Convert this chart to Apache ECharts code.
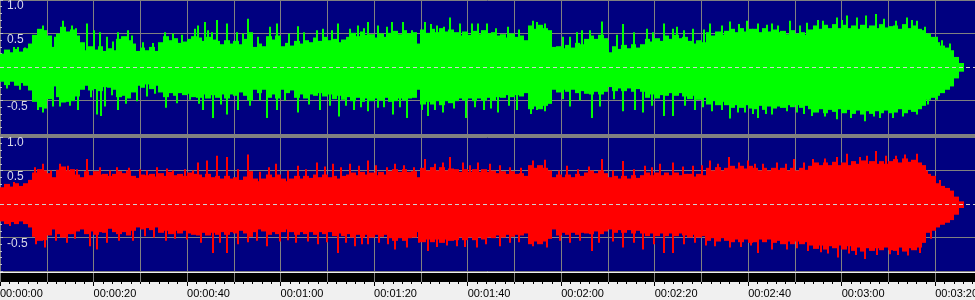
<!DOCTYPE html>
<html><head><meta charset="utf-8">
<script src="https://cdn.jsdelivr.net/npm/echarts@6/dist/echarts.min.js"></script>
<style>html,body{margin:0;padding:0;background:#f0f0f0;overflow:hidden}#c{width:975px;height:300px}</style>
</head><body><div id="c"></div>
<script>
// ---- time ruler labels (every 20 s) ----
const timeLabels = ['00:00:00','00:00:20','00:00:40','00:01:00','00:01:20','00:01:40','00:02:00','00:02:20','00:02:40','00:03:00','00:03:20'];
const ampLabels = ['-1.0','-0.5','0.0','0.5','1.0'];

// ---- envelope per 1-second bin (index = second) ----
const leftUpper = [
0.20,0.26,0.22,0.27,0.23,0.28,0.35,
0.48,0.57,0.55,0.47,0.30,0.50,0.60,0.53,0.56,0.47,0.37,
0.25,0.31,0.26,0.31,0.24,0.28,0.25,
0.42,0.46,0.40,0.35,
0.24,0.29,0.25,0.30,0.24,
0.37,0.46,0.40,0.43,0.36,0.38,0.42,0.46,
0.44,0.39,0.45,0.41,
0.39,0.34,0.40,0.35,
0.39,0.34,0.42,
0.52,
0.30,0.35,0.31,
0.46,0.41,0.47,
0.31,0.36,0.32,
0.39,0.35,0.40,0.37,
0.44,0.39,0.45,0.40,
0.42,0.37,0.41,0.45,
0.51,0.46,0.53,0.48,
0.49,0.44,0.50,0.45,0.51,
0.54,0.49,0.55,0.50,0.52,
0.35,
0.56,0.51,0.57,0.52,0.58,0.53,0.56,
0.52,0.47,0.53,0.48,
0.54,0.49,0.55,0.50,0.52,0.47,
0.49,0.44,0.50,0.45,0.47,0.40,
0.62,0.57,0.63,0.58,0.55,
0.30,
0.31,0.28,0.33,0.29,0.36,0.34,0.42,
0.47,0.42,0.48,0.43,
0.22,
0.31,0.27,0.33,0.28,0.34,0.29,0.34,
0.42,0.38,0.43,0.39,
0.47,0.42,0.48,0.43,0.45,
0.39,0.35,0.40,0.37,
0.52,0.47,0.53,0.48,0.54,
0.57,0.52,0.58,0.53,0.57,
0.57,0.52,0.58,0.53,0.56,0.52,
0.54,0.49,0.55,0.50,
0.52,0.48,0.56,
0.62,0.57,0.63,0.58,0.64,0.58,0.63,0.58,
0.62,0.57,0.63,0.58,
0.62,0.58,0.64,0.59,0.61,
0.62,0.57,0.64,0.58,0.62,0.57,0.55,
0.50,0.45,
0.37,0.32,
0.29,0.25,
0.15,
0.06];
const leftLower = [
-0.22,-0.27,-0.22,-0.28,-0.24,-0.28,-0.35,
-0.52,-0.60,-0.62,-0.48,-0.29,-0.45,-0.53,-0.52,-0.51,-0.44,-0.34,
-0.28,-0.35,-0.33,-0.36,-0.30,-0.31,-0.34,
-0.45,-0.43,-0.47,-0.38,
-0.28,-0.31,-0.26,-0.33,-0.28,
-0.38,-0.45,-0.39,-0.43,-0.39,-0.42,-0.40,-0.45,
-0.46,-0.41,-0.47,-0.42,
-0.46,-0.41,-0.47,-0.41,
-0.43,-0.38,-0.43,
-0.50,
-0.34,-0.39,-0.34,
-0.46,-0.41,-0.47,
-0.34,-0.39,-0.35,
-0.46,-0.41,-0.47,-0.41,
-0.43,-0.39,-0.44,-0.41,
-0.48,-0.43,-0.49,-0.45,
-0.51,-0.46,-0.52,-0.47,
-0.51,-0.47,-0.50,-0.46,-0.52,
-0.51,-0.47,-0.50,-0.47,-0.46,
-0.34,
-0.56,-0.52,-0.56,-0.51,-0.57,-0.51,-0.54,
-0.51,-0.47,-0.50,-0.47,
-0.51,-0.47,-0.50,-0.46,-0.50,-0.45,
-0.46,-0.42,-0.45,-0.42,-0.44,-0.39,
-0.63,-0.59,-0.63,-0.58,-0.55,
-0.34,
-0.38,-0.34,-0.37,-0.34,-0.39,-0.36,-0.40,
-0.41,-0.37,-0.41,-0.37,
-0.30,
-0.36,-0.32,-0.36,-0.32,-0.37,-0.33,-0.37,
-0.46,-0.41,-0.47,-0.42,
-0.43,-0.39,-0.43,-0.39,-0.44,
-0.48,-0.43,-0.49,-0.46,
-0.56,-0.51,-0.57,-0.52,-0.57,
-0.61,-0.57,-0.61,-0.57,-0.62,
-0.63,-0.58,-0.64,-0.59,-0.62,-0.59,
-0.61,-0.57,-0.60,-0.57,
-0.61,-0.58,-0.63,
-0.68,-0.63,-0.69,-0.64,-0.67,-0.63,-0.69,-0.64,
-0.70,-0.65,-0.71,-0.66,
-0.70,-0.66,-0.69,-0.65,-0.69,
-0.68,-0.63,-0.69,-0.64,-0.67,-0.63,-0.58,
-0.49,-0.46,
-0.43,-0.39,
-0.34,-0.29,
-0.17,
-0.07];
const rightUpper = [
0.25,0.30,0.26,0.31,0.27,0.31,0.36,
0.47,0.52,0.50,0.46,0.40,0.51,0.56,0.50,0.52,0.44,0.40,
0.49,0.43,0.49,0.44,0.45,0.42,0.45,
0.49,0.46,0.50,0.42,
0.39,0.44,0.43,0.45,0.41,
0.46,0.42,0.48,0.43,0.45,0.42,0.47,0.45,
0.44,0.40,0.45,0.40,
0.42,0.38,0.42,0.38,
0.40,0.36,0.41,
0.49,
0.38,0.34,0.38,
0.44,0.40,0.44,
0.38,0.34,0.38,
0.42,0.38,0.42,0.39,
0.44,0.40,0.44,0.40,
0.42,0.38,0.42,0.44,
0.47,0.43,0.48,0.44,
0.47,0.43,0.48,0.44,0.49,
0.52,0.48,0.52,0.48,0.49,
0.40,
0.54,0.50,0.55,0.50,0.55,0.50,0.53,
0.52,0.48,0.52,0.48,
0.52,0.48,0.52,0.48,0.50,0.46,
0.49,0.45,0.49,0.45,0.46,0.42,
0.58,0.54,0.58,0.54,0.50,
0.40,
0.44,0.40,0.44,0.40,0.45,0.42,0.47,
0.50,0.46,0.50,0.46,
0.40,
0.42,0.38,0.42,0.38,0.43,0.39,0.43,
0.47,0.43,0.47,0.43,
0.47,0.43,0.47,0.43,0.45,
0.45,0.41,0.45,0.43,
0.54,0.50,0.55,0.50,0.54,
0.57,0.53,0.57,0.53,0.57,
0.54,0.50,0.54,0.50,0.54,0.51,
0.54,0.50,0.54,0.50,
0.54,0.51,0.57,
0.62,0.58,0.62,0.58,0.63,0.58,0.62,0.58,
0.64,0.60,0.65,0.60,
0.64,0.60,0.64,0.60,0.64,
0.67,0.62,0.68,0.63,0.66,0.62,0.58,
0.45,0.42,
0.31,0.27,
0.24,0.20,
0.11,
0.04];
const rightLower = [
-0.26,-0.30,-0.27,-0.30,-0.26,-0.30,-0.35,
-0.49,-0.55,-0.54,-0.47,-0.38,-0.45,-0.50,-0.45,-0.45,-0.41,-0.38,
-0.45,-0.41,-0.46,-0.42,-0.43,-0.37,-0.42,
-0.45,-0.42,-0.47,-0.40,
-0.35,-0.38,-0.36,-0.39,-0.35,
-0.43,-0.40,-0.45,-0.40,-0.44,-0.40,-0.44,-0.46,
-0.47,-0.43,-0.47,-0.43,
-0.46,-0.42,-0.46,-0.42,
-0.44,-0.40,-0.44,
-0.49,
-0.42,-0.38,-0.41,
-0.46,-0.42,-0.45,
-0.42,-0.38,-0.42,
-0.46,-0.42,-0.45,-0.42,
-0.46,-0.42,-0.45,-0.42,
-0.48,-0.44,-0.48,-0.45,
-0.50,-0.46,-0.50,-0.46,
-0.50,-0.46,-0.49,-0.46,-0.51,
-0.55,-0.51,-0.55,-0.51,-0.50,
-0.42,
-0.57,-0.53,-0.57,-0.53,-0.58,-0.53,-0.55,
-0.54,-0.50,-0.54,-0.50,
-0.54,-0.50,-0.53,-0.50,-0.51,-0.47,
-0.50,-0.46,-0.49,-0.46,-0.47,-0.44,
-0.60,-0.56,-0.60,-0.56,-0.52,
-0.38,
-0.47,-0.43,-0.46,-0.43,-0.46,-0.43,-0.44,
-0.45,-0.41,-0.45,-0.41,
-0.38,
-0.43,-0.39,-0.43,-0.39,-0.44,-0.40,-0.44,
-0.48,-0.44,-0.48,-0.44,
-0.48,-0.44,-0.48,-0.44,-0.47,
-0.50,-0.46,-0.50,-0.48,
-0.55,-0.51,-0.56,-0.51,-0.55,
-0.57,-0.53,-0.57,-0.53,-0.58,
-0.57,-0.53,-0.57,-0.53,-0.58,-0.55,
-0.60,-0.56,-0.60,-0.56,
-0.60,-0.57,-0.62,
-0.67,-0.62,-0.68,-0.63,-0.66,-0.62,-0.68,-0.63,
-0.70,-0.65,-0.71,-0.66,
-0.70,-0.66,-0.69,-0.65,-0.69,
-0.70,-0.65,-0.71,-0.66,-0.69,-0.65,-0.58,
-0.43,-0.40,
-0.35,-0.31,
-0.28,-0.24,
-0.16,
-0.06];

// ---- individual peaks [second, amplitude] ----
const leftUpperPeaks = [[2.9,0.30],[3.8,0.30],[5.3,0.29],[9.3,0.62],[11.8,0.45],[13.5,0.69],[15.3,0.62],[16.2,0.58],[18.7,0.65],[20.0,0.55],[21.4,0.52],[22.8,0.45],[24.1,0.38],[25.3,0.52],[27.4,0.55],[28.3,0.47],[30.6,0.37],[32.8,0.36],[35.3,0.52],[37.1,0.50],[39.0,0.48],[41.7,0.57],
[42.4,0.62],[43.8,0.67],[44.5,0.55],[45.3,0.52],[46.5,0.70],[48.6,0.65],[50.6,0.52],[51.9,0.50],[53.1,0.72],[55.2,0.45],[57.7,0.60],[59.2,0.65],[61.7,0.50],[63.8,0.61],[65.0,0.52],[67.7,0.55],[69.1,0.57],[71.0,0.55],[72.3,0.65],[74.8,0.57],[76.6,0.62],[77.9,0.58],[78.8,0.67],[80.9,0.62],[82.7,0.60],
[83.8,0.67],[86.1,0.67],[88.0,0.55],[90.9,0.67],[92.1,0.64],[93.4,0.62],[95.0,0.60],[96.2,0.74],[98.4,0.65],[100.9,0.65],[102.3,0.65],[104.2,0.65],[106.1,0.58],[108.7,0.60],[111.0,0.56],[114.0,0.69],[114.8,0.67],[116.5,0.65],[117.8,0.50],[120.5,0.45],[121.9,0.45],[123.3,0.52],[124.4,0.55],
[126.2,0.55],[128.8,0.68],[130.0,0.40],[131.9,0.48],[133.3,0.64],[135.6,0.52],[138.3,0.57],[139.7,0.52],[142.1,0.65],[144.0,0.57],[144.7,0.60],[146.2,0.55],[148.3,0.57],[150.6,0.56],[151.8,0.65],[154.3,0.62],[156.1,0.68],[158.0,0.64],[159.7,0.69],[162.2,0.65],[164.0,0.63],[165.0,0.65],[166.4,0.62],
[168.9,0.69],[171.1,0.62],[172.6,0.66],[175.0,0.70],[176.1,0.69],[178.9,0.74],[180.0,0.70],[181.1,0.77],[183.2,0.74],[185.1,0.77],[187.3,0.79],[189.0,0.72],[191.7,0.69],[193.9,0.74],[195.0,0.70],[196.0,0.69],[197.8,0.60],[200.3,0.45],[201.5,0.40],[203.2,0.35]];
const leftLowerPeaks = [[1.4,-0.32],[4.3,-0.34],[8.2,-0.64],[9.3,-0.68],[11.4,-0.59],[12.8,-0.59],[14.9,-0.58],[16.7,-0.64],[19.4,-0.45],[20.7,-0.71],[21.7,-0.73],[22.5,-0.59],[24.0,-0.42],[25.3,-0.64],[27.0,-0.55],[29.2,-0.51],[31.4,-0.44],[33.2,-0.40],[35.6,-0.61],[37.8,-0.54],[40.6,-0.49],
[42.6,-0.55],[43.5,-0.64],[45.6,-0.76],[47.2,-0.56],[48.6,-0.71],[50.8,-0.64],[53.5,-0.58],[55.6,-0.50],[57.2,-0.76],[59.2,-0.64],[61.0,-0.50],[63.8,-0.68],[66.0,-0.56],[68.4,-0.64],[70.5,-0.58],[72.5,-0.74],[74.0,-0.58],[75.6,-0.64],[77.2,-0.60],[78.8,-0.66],[80.9,-0.61],[82.2,-0.60],
[84.1,-0.71],[85.6,-0.60],[87.1,-0.76],[90.2,-0.64],[91.6,-0.73],[93.0,-0.64],[94.8,-0.68],[97.0,-0.62],[99.7,-0.76],[101.5,-0.60],[103.4,-0.64],[105.0,-0.62],[106.6,-0.68],[108.8,-0.58],[110.5,-0.64],[113.5,-0.70],[114.8,-0.64],[116.5,-0.66],[120.3,-0.48],[121.9,-0.59],[124.0,-0.50],
[126.5,-0.76],[128.3,-0.59],[131.2,-0.48],[133.3,-0.66],[135.8,-0.64],[137.6,-0.68],[139.5,-0.58],[141.9,-0.73],[144.0,-0.73],[146.5,-0.58],[148.6,-0.64],[150.4,-0.60],[152.2,-0.66],[154.5,-0.64],[156.2,-0.77],[157.8,-0.68],[159.3,-0.68],[161.0,-0.70],[162.2,-0.76],[163.8,-0.70],[165.0,-0.71],
[168.2,-0.66],[170.4,-0.68],[172.0,-0.70],[173.6,-0.73],[176.5,-0.74],[178.9,-0.78],[182.0,-0.76],[185.0,-0.81],[186.8,-0.74],[188.2,-0.76],[191.0,-0.76],[193.0,-0.74],[196.0,-0.71],[198.5,-0.56],[200.3,-0.49]];
const rightUpperPeaks = [[3.0,0.33],[7.5,0.55],[9.3,0.60],[11.0,0.50],[12.8,0.60],[14.6,0.57],[16.5,0.52],[18.7,0.67],[21.4,0.55],[23.5,0.50],[25.0,0.55],[27.5,0.54],[29.9,0.52],[31.5,0.50],[33.5,0.55],[35.8,0.53],[37.1,0.50],[39.5,0.52],[41.3,0.50],
[42.4,0.62],[44.2,0.65],[46.5,0.72],[48.6,0.70],[51.0,0.52],[53.1,0.74],[55.5,0.48],[57.5,0.55],[59.0,0.60],[61.5,0.50],[63.8,0.57],[65.5,0.52],[67.7,0.62],[69.5,0.56],[71.3,0.60],[73.0,0.55],[74.8,0.60],[76.8,0.57],[78.8,0.65],[80.5,0.58],[82.7,0.55],
[84.5,0.60],[86.5,0.58],[88.5,0.55],[90.9,0.67],[93.0,0.60],[94.8,0.62],[96.2,0.70],[99.1,0.62],[100.5,0.58],[102.3,0.62],[104.8,0.60],[107.0,0.58],[109.1,0.55],[111.5,0.54],[114.0,0.65],[116.5,0.66],[119.5,0.50],[121.2,0.57],[123.5,0.52],
[126.0,0.56],[128.8,0.67],[131.0,0.50],[133.3,0.64],[135.5,0.52],[137.9,0.57],[139.5,0.55],[141.1,0.60],[144.0,0.62],[146.0,0.56],[148.3,0.57],[150.2,0.58],[151.8,0.65],[153.5,0.60],[155.9,0.70],[158.0,0.62],[160.0,0.65],[161.5,0.60],[163.2,0.60],[166.1,0.62],
[168.0,0.60],[169.7,0.67],[172.0,0.62],[173.9,0.67],[176.5,0.68],[179.0,0.70],[181.1,0.75],[183.9,0.70],[185.5,0.72],[187.3,0.79],[189.5,0.72],[191.7,0.72],[193.5,0.74],[196.0,0.75],[198.2,0.50],[201.0,0.36]];
const rightLowerPeaks = [[2.2,-0.33],[7.8,-0.60],[9.6,-0.65],[12.0,-0.55],[14.3,-0.58],[16.0,-0.52],[19.2,-0.63],[20.7,-0.68],[22.8,-0.58],[25.5,-0.55],[28.5,-0.55],[31.0,-0.48],[33.0,-0.50],[35.6,-0.55],[37.5,-0.52],[39.9,-0.53],
[43.0,-0.58],[45.6,-0.73],[47.0,-0.58],[48.6,-0.73],[50.8,-0.60],[53.0,-0.57],[55.0,-0.55],[57.2,-0.63],[59.8,-0.56],[61.5,-0.54],[63.4,-0.58],[65.8,-0.56],[68.1,-0.60],[70.0,-0.57],[72.3,-0.73],[74.0,-0.58],[75.9,-0.63],[77.5,-0.60],[78.8,-0.60],[81.0,-0.58],[83.0,-0.60],
[84.5,-0.68],[87.0,-0.65],[89.5,-0.58],[91.6,-0.70],[93.5,-0.64],[95.5,-0.62],[97.7,-0.63],[99.5,-0.64],[101.9,-0.65],[104.0,-0.60],[106.9,-0.63],[109.0,-0.58],[111.0,-0.57],[114.0,-0.63],[116.9,-0.65],[119.8,-0.55],[121.9,-0.58],[124.0,-0.55],
[126.5,-0.70],[128.0,-0.58],[131.0,-0.56],[133.3,-0.65],[135.5,-0.58],[137.6,-0.68],[139.8,-0.60],[141.9,-0.73],[144.0,-0.73],[146.2,-0.60],[148.6,-0.58],[151.0,-0.62],[153.0,-0.63],[156.2,-0.65],[158.5,-0.64],[160.5,-0.62],[162.2,-0.73],[165.0,-0.68],
[168.2,-0.68],[170.5,-0.66],[172.8,-0.70],[175.5,-0.72],[177.0,-0.74],[179.3,-0.80],[181.5,-0.74],[183.0,-0.76],[185.0,-0.82],[187.5,-0.76],[190.3,-0.75],[192.0,-0.76],[194.2,-0.77],[196.7,-0.73],[199.0,-0.52]];

const VIEW_END = 208.5; // seconds visible across the window

const NAVY = '#000080', GRID = '#808080', GREEN = '#00ff00', RED = '#ff0000';

function bodyRender(color){
  return function(params, api){
    const t = api.value(0), lo = api.value(1), hi = api.value(2);
    const a = api.coord([t, hi]), b = api.coord([t + 1, lo]);
    const x0 = Math.floor(a[0]), x1 = Math.ceil(b[0]);
    return {type:'rect', shape:{x:x0, y:a[1], width:x1 - x0, height:b[1] - a[1]}, style:{fill:color}};
  };
}
function peakRender(color){
  return function(params, api){
    const t = api.value(0), v = api.value(1);
    const a = api.coord([t, v]), b = api.coord([t, 0]);
    return {type:'rect', shape:{x:Math.round(a[0]) - 1, y:Math.min(a[1], b[1]), width:2, height:Math.abs(b[1] - a[1])}, style:{fill:color}};
  };
}
const toBody = (up, lo) => up.map((v, i) => [i, lo[i], v]);

const zeroLine = {silent:true, symbol:'none', label:{show:false}, data:[{yAxis:0}],
  lineStyle:{color:'#d0d0d0', type:[4,3], width:1}};

function ampAxis(gi){
  return {gridIndex:gi, type:'value', min:-1, max:1, interval:0.5,
    axisLine:{show:false},
    axisTick:{show:true, inside:true, length:3, lineStyle:{color:'#c0c0d0'}},
    minorTick:{show:true, splitNumber:5, length:2, lineStyle:{color:'#c0c0d0'}},
    splitLine:{show:true, lineStyle:{color:[GRID, GRID, 'rgba(0,0,0,0)', GRID, GRID], width:1}},
    axisLabel:{inside:true, margin:7, verticalAlign:'top', showMinLabel:false, color:'#d8d8e8',
      fontFamily:'Liberation Sans', fontSize:12,
      formatter:(v) => ampLabels[Math.round((v + 1) / 0.5)]}};
}
function timeGridAxis(gi){
  return {gridIndex:gi, type:'value', min:0, max:VIEW_END, interval:10,
    axisLine:{show:false}, axisTick:{show:false}, axisLabel:{show:false},
    splitLine:{show:true, lineStyle:{color:GRID, width:1}}};
}

const chart = echarts.init(document.getElementById('c'), null, {renderer:'canvas'});
chart.setOption({
  animation:false,
  backgroundColor:'#f0f0f0',
  grid:[
    {left:0, right:0, top:0, height:134, show:true, backgroundColor:NAVY, borderWidth:0, containLabel:false, outerBoundsMode:'none'},
    {left:0, right:0, top:137, height:134, show:true, backgroundColor:NAVY, borderWidth:0, containLabel:false, outerBoundsMode:'none'},
    {left:0, right:0, top:273, height:9, show:true, backgroundColor:'#000000', borderWidth:0, containLabel:false, outerBoundsMode:'none'}
  ],
  graphic:[{type:'rect', shape:{x:0, y:134, width:975, height:3}, style:{fill:'#808080'}, z:100}],
  xAxis:[
    timeGridAxis(0), timeGridAxis(1), timeGridAxis(2),
    {gridIndex:2, type:'value', min:0, max:VIEW_END, interval:20, position:'bottom',
      axisLine:{show:false},
      axisTick:{show:true, length:4, lineStyle:{color:'#000'}},
      minorTick:{show:true, splitNumber:10, length:2, lineStyle:{color:'#000'}},
      splitLine:{show:false},
      axisLabel:{show:true, align:'left', margin:6, color:'#000', fontFamily:'Liberation Sans', fontSize:11,
        showMaxLabel:false, hideOverlap:false,
        formatter:(v) => timeLabels[Math.round(v / 20)] || ''}}
  ],
  yAxis:[ampAxis(0), ampAxis(1), {gridIndex:2, type:'value', min:0, max:1, show:false}],
  series:[
    {type:'custom', xAxisIndex:0, yAxisIndex:0, renderItem:bodyRender(GREEN), data:toBody(leftUpper, leftLower), markLine:zeroLine},
    {type:'custom', xAxisIndex:0, yAxisIndex:0, renderItem:peakRender(GREEN), data:leftUpperPeaks},
    {type:'custom', xAxisIndex:0, yAxisIndex:0, renderItem:peakRender(GREEN), data:leftLowerPeaks},
    {type:'custom', xAxisIndex:1, yAxisIndex:1, renderItem:bodyRender(RED), data:toBody(rightUpper, rightLower), markLine:zeroLine},
    {type:'custom', xAxisIndex:1, yAxisIndex:1, renderItem:peakRender(RED), data:rightUpperPeaks},
    {type:'custom', xAxisIndex:1, yAxisIndex:1, renderItem:peakRender(RED), data:rightLowerPeaks}
  ]
});
</script></body></html>
